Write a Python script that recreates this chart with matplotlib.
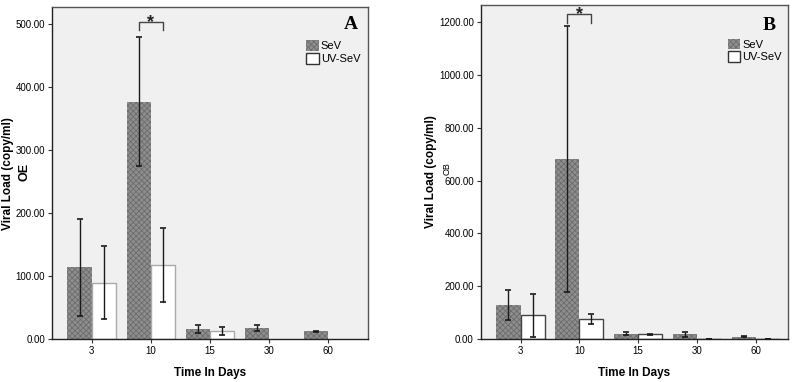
import matplotlib
matplotlib.use("Agg")
import matplotlib.pyplot as plt
import numpy as np
from matplotlib.patches import Patch

plt.rcParams['font.family'] = ['Liberation Sans', 'DejaVu Sans']
plt.rcParams['hatch.linewidth'] = 0.6

days = ['3', '10', '15', '30', '60']

# panel A (OE)
a_sev = [115, 377, 16, 17, 12]
a_sev_lo = [37, 274, 10, 12, 11]
a_sev_hi = [191, 480, 22, 22, 13]
a_uv = [89, 117, 13, np.nan, np.nan]
a_uv_lo = [32, 58, 7, np.nan, np.nan]
a_uv_hi = [147, 176, 19, np.nan, np.nan]

# panel B (OB)
b_sev = [130, 681, 20, 18, 8]
b_sev_lo = [71, 178, 14, 6, 6]
b_sev_hi = [187, 1185, 26, 28, 10]
b_uv = [91, 77, 17, 0, 0]
b_uv_lo = [8, 58, 15, 0, 0]
b_uv_hi = [171, 96, 20, 0, 0]

SEV_FACE = '#8e8e8e'
SEV_HATCH = '#6c6c6c'
BG = '#f0f0f0'
W = 0.41


def draw_panel(ax, sev, sev_lo, sev_hi, uv, uv_lo, uv_hi, ylim, yticks,
               xlim, letter, letter_xy, star_y, uv_edge):
    x = np.arange(len(days))
    sev = np.array(sev, float)
    uv = np.array(uv, float)
    ax.set_facecolor(BG)
    ax.bar(x - W / 2, sev, W, color=SEV_FACE, hatch='xxxxxx',
           edgecolor=SEV_HATCH, linewidth=0, zorder=2)
    ax.bar(x + W / 2, uv, W, color='white', edgecolor=uv_edge,
           linewidth=1.0, zorder=2)
    err = np.array([sev - np.array(sev_lo), np.array(sev_hi) - sev])
    ax.errorbar(x - W / 2, sev, yerr=err, fmt='none', ecolor='#1a1a1a',
                elinewidth=1.0, capsize=2.5, capthick=1.2, zorder=3)
    err = np.array([uv - np.array(uv_lo, float), np.array(uv_hi, float) - uv])
    ax.errorbar(x + W / 2, uv, yerr=err, fmt='none', ecolor='#1a1a1a',
                elinewidth=1.0, capsize=2.5, capthick=1.2, zorder=3)

    # significance bracket at day 10
    x0, x1 = 1 - W / 2, 1 + W / 2
    top, drop = star_y
    ax.plot([x0, x0, x1, x1], [drop, top, top, drop], color='#444444',
            lw=1.0, zorder=3, clip_on=False)
    ax.annotate('*', (1, top), xytext=(0, -3.5), textcoords='offset points',
                ha='center', va='baseline', fontsize=13, fontweight='bold',
                color='#222222', annotation_clip=False)

    ax.set_xlim(*xlim)
    ax.set_ylim(*ylim)
    ax.set_xticks(x)
    ax.set_xticklabels(days, fontsize=7)
    ax.set_yticks(yticks)
    ax.set_yticklabels(['%.2f' % v for v in yticks], fontsize=7)
    ax.tick_params(length=3, width=0.8, color='#333333', pad=2)
    for s in ax.spines.values():
        s.set_color('#555555')
        s.set_linewidth(1.0)
    ax.spines['bottom'].set_color('#222222')
    ax.spines['left'].set_color('#222222')
    ax.set_xlabel('Time In Days', fontsize=8.5, fontweight='bold', labelpad=8)
    ax.text(letter_xy[0], letter_xy[1], letter, transform=ax.transAxes,
            ha='center', va='center', fontsize=14, fontweight='bold',
            family='Liberation Serif')
    handles = [Patch(facecolor=SEV_FACE, hatch='xxxxxx', edgecolor=SEV_HATCH,
                     linewidth=0),
               Patch(facecolor='white', edgecolor='#333333', linewidth=1.0)]
    ax.legend(handles, ['SeV', 'UV-SeV'], loc='upper left',
              bbox_to_anchor=(0.805, 0.9), frameon=False, fontsize=8,
              handlelength=1.1, handleheight=1.1, handletextpad=0.2,
              labelspacing=0.15, borderpad=0, borderaxespad=0)


fig = plt.figure(figsize=(8, 3.82), dpi=100)
axA = fig.add_axes([0.065, 0.1126, 0.395, 0.869])
axB = fig.add_axes([0.601, 0.1126, 0.3835, 0.874])

draw_panel(axA, a_sev, a_sev_lo, a_sev_hi, a_uv, a_uv_lo, a_uv_hi,
           (0, 527), [0, 100, 200, 300, 400, 500], (-0.67, 4.67), 'A',
           (0.945, 0.946), (503, 490), '#aaaaaa')
draw_panel(axB, b_sev, b_sev_lo, b_sev_hi, b_uv, b_uv_lo, b_uv_hi,
           (0, 1264), [0, 200, 400, 600, 800, 1000, 1200], (-0.675, 4.54), 'B',
           (0.94, 0.94), (1231, 1195), '#444444')

# y labels
fig.text(0.0105, 0.545, 'Viral Load (copy/ml)', rotation=90, ha='center',
         va='center', fontsize=8.5, fontweight='bold')
fig.text(0.03, 0.55, 'OE', rotation=90, ha='center', va='center',
         fontsize=9, fontweight='bold')
fig.text(0.539, 0.55, 'Viral Load (copy/ml)', rotation=90, ha='center',
         va='center', fontsize=8.5, fontweight='bold')
fig.text(0.5595, 0.558, 'OB', rotation=90, ha='center', va='center',
         fontsize=6.5)

fig.savefig('out.png', dpi=100, facecolor='white')
